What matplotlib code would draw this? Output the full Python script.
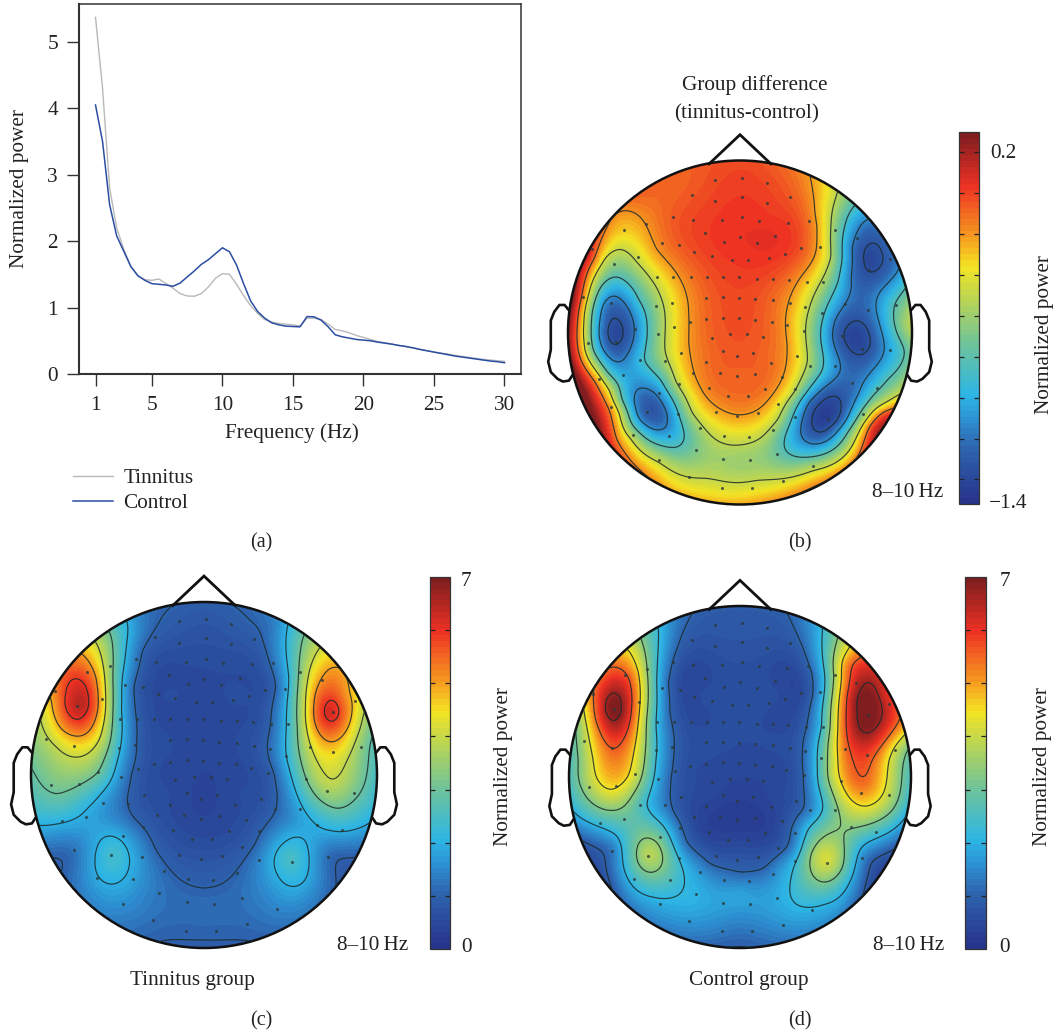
#!/usr/bin/env python3
"""
Resting EEG spectrum and 8-10 Hz scalp maps, tinnitus vs control
"""

import matplotlib
matplotlib.use('Agg')
import matplotlib.pyplot as plt
from matplotlib.colors import LinearSegmentedColormap
from matplotlib.lines import Line2D
from matplotlib.patches import Circle
import numpy as np

plt.rcParams['font.family'] = ['Liberation Serif', 'DejaVu Serif']
plt.rcParams['font.size'] = 15.3

W, H = 1054, 1033
FS = 15.3

# Spectrum, panel (a)
freq = np.arange(1, 30.5, 0.5)
tinnitus_power = [5.37, 4.3, 2.8, 2.2, 1.88, 1.62, 1.48, 1.42, 1.41, 1.43, 1.36, 1.29, 1.21, 1.175, 1.17,
                  1.21, 1.31, 1.44, 1.51, 1.50, 1.35, 1.18, 1.03, .91, .82, .78, .76, .75, .74, .72,
                  .84, .84, .82, .75, .67, .65, .62, .58, .55, .52, .49, .47, .45, .43, .41, .39,
                  .37, .35, .33, .315, .30, .28, .265, .25, .235, .22, .21, .20, .19]
control_power = [4.05, 3.5, 2.55, 2.08, 1.85, 1.62, 1.48, 1.41, 1.36, 1.35, 1.34, 1.32, 1.37, 1.46, 1.55,
                 1.65, 1.72, 1.81, 1.90, 1.84, 1.64, 1.36, 1.10, .94, .84, .77, .74, .72, .715, .71,
                 .865, .86, .81, .71, .59, .56, .54, .52, .51, .50, .48, .465, .45, .43, .415, .395,
                 .37, .35, .33, .31, .29, .27, .255, .24, .225, .21, .195, .185, .17]
freq_ticks = [1, 5, 10, 15, 20, 25, 30]
power_ticks = [0, 1, 2, 3, 4, 5]

# Sensor positions, picture coordinates
sensors_xy = [
    (526, 360), (605, 353), (680, 368), (455, 405), (526, 423), (605, 410), (680, 428), (750, 412),
    (398, 472), (458, 480), (545, 480), (605, 472), (657, 483), (743, 488), (806, 483), (253, 510),
    (320, 492), (495, 520), (600, 532), (706, 527), (885, 510), (366, 550), (418, 555), (552, 547),
    (650, 550), (783, 565), (840, 562), (950, 533), (157, 566), (462, 577), (515, 588), (575, 600),
    (623, 600), (687, 595), (735, 583), (295, 590), (222, 613), (1050, 597), (350, 650), (400, 650),
    (452, 650), (500, 650), (548, 650), (597, 650), (650, 656), (698, 656), (746, 660), (800, 665),
    (850, 665), (985, 630), (130, 710), (498, 713), (548, 711), (597, 714), (645, 718), (698, 721),
    (750, 730), (213, 730), (395, 728), (347, 737), (795, 740), (915, 733), (983, 750), (845, 760),
    (1067, 735), (403, 800), (450, 785), (498, 778), (548, 773), (597, 775), (645, 780), (695, 785),
    (740, 795), (792, 812), (285, 808), (353, 822), (515, 832), (571, 822), (620, 822), (668, 830),
    (228, 845), (145, 847), (905, 828), (965, 865), (1048, 870), (422, 878), (548, 872), (592, 888),
    (638, 878), (770, 888), (300, 900), (375, 902), (498, 905), (692, 907), (810, 917), (885, 917),
    (250, 943), (460, 937), (541, 937), (592, 948), (646, 940), (725, 950), (178, 955), (418, 972),
    (507, 982), (563, 1007), (623, 1007), (675, 985), (765, 985), (935, 967), (1010, 982), (358, 998),
    (713, 1030), (214, 1040), (415, 1060), (527, 1055), (590, 1067), (655, 1057), (765, 1070),
    (862, 1075), (968, 1060), (322, 1055), (280, 1125), (388, 1127), (480, 1103), (552, 1127),
    (627, 1130), (698, 1108), (467, 1168), (548, 1195), (630, 1200), (712, 1182), (358, 1200),
    (818, 1217), (447, 1250), (728, 1262), (545, 1282), (635, 1282),
]

# Panel (b): points along each contour, then spot readings (x, y, value)
b_levels = [-1.35, -1.15, -0.85, -0.5, -0.2]
b_line_02 = [(215, 465), (255, 447), (290, 460), (320, 500), (345, 570), (400, 625), (435, 690), (445, 760),
             (445, 850), (460, 930), (490, 1000), (540, 1045), (590, 1065), (650, 1050), (700, 1000),
             (735, 930), (745, 850), (745, 730), (780, 650), (830, 570), (835, 500), (825, 430), (813, 365),
             (185, 535), (150, 610), (130, 700), (115, 790), (118, 880), (180, 955), (215, 1040), (225, 1140)]
b_line_05 = [(238, 565), (190, 590), (160, 660), (140, 730), (133, 790), (140, 850), (170, 930), (215, 990),
             (245, 1060), (280, 1130), (360, 1200), (500, 1250), (650, 1257), (820, 1225), (950, 1130),
             (985, 1075), (1040, 1040), (1090, 1000), (290, 610), (350, 680), (373, 740), (373, 870),
             (400, 970), (450, 1060), (510, 1125), (590, 1157), (670, 1130), (720, 1080), (770, 1000),
             (805, 900), (810, 740), (850, 650), (880, 590), (890, 410)]
b_line_085 = [(225, 650), (180, 680), (155, 760), (150, 860), (190, 950), (235, 1020), (280, 1100), (350, 1150),
              (410, 1165), (437, 1130), (415, 1060), (370, 960), (300, 900), (320, 800), (290, 720), (255, 665),
              (730, 1165), (770, 1190), (850, 1180), (920, 1110), (965, 1050), (1000, 1000), (1040, 950),
              (1100, 870), (735, 1120), (800, 1000), (850, 930), (850, 780), (900, 660), (930, 450),
              (1085, 700), (1060, 730)]
b_line_115 = [(222, 703), (185, 730), (175, 820), (215, 905), (255, 890), (285, 800), (265, 740),
              (310, 985), (280, 1020), (290, 1075), (340, 1110), (380, 1105), (385, 1060), (350, 1000),
              (965, 480), (930, 560), (925, 650), (880, 780), (875, 830), (900, 900), (905, 930), (800, 1020),
              (780, 1120), (830, 1155), (920, 1080), (960, 1000), (1020, 900), (1015, 780), (1020, 690),
              (1080, 640)]
b_line_135 = [(228, 780), (205, 820), (225, 860), (248, 825), (990, 550), (978, 630), (1005, 635), (1025, 600),
              (1015, 555), (945, 785), (905, 830), (955, 885), (993, 860), (985, 810), (860, 1005),
              (815, 1060), (850, 1120), (900, 1080), (895, 1020)]
b_spots = [(610, 500, 0.04), (600, 700, -0.02), (600, 950, -0.1), (600, 340, 0.0), (400, 350, -0.1),
           (280, 420, -0.1), (780, 370, -0.12), (850, 450, -0.35), (100, 720, 0.2), (150, 590, 0.1),
           (150, 1050, 0.25), (200, 1130, 0.1), (270, 1210, -0.15), (400, 1290, -0.3), (600, 1310, -0.35),
           (800, 1270, -0.3), (1040, 1060, 0.1), (1000, 1100, 0.05), (960, 1180, -0.2), (1100, 800, -0.55),
           (1100, 650, -0.9), (1000, 490, -1.2), (960, 440, -0.9), (1040, 560, -1.25), (600, 1205, -0.65),
           (228, 825, -1.45), (330, 1050, -1.38), (1000, 590, -1.45), (950, 835, -1.45), (858, 1060, -1.45),
           (500, 700, -0.08), (690, 700, -0.08), (235, 510, -0.3), (500, 450, 0.0), (700, 450, 0.0),
           (600, 600, 0.02), (500, 880, -0.12), (690, 880, -0.12), (400, 480, -0.05)]

# Panel (c)
c_levels = [1, 2, 3, 4, 5, 6]
c_line_1 = [(530, 135), (480, 190), (420, 270), (395, 380), (405, 450), (405, 540), (390, 640), (380, 710),
            (400, 780), (460, 870), (520, 940), (612, 990), (700, 945), (770, 860), (820, 770), (835, 700),
            (830, 640), (815, 500), (835, 380), (800, 270), (745, 190), (695, 135), (160, 890), (200, 900),
            (170, 940), (995, 895), (1060, 895), (1010, 980), (490, 1140), (612, 1138), (730, 1140)]
c_line_2 = [(390, 190), (375, 300), (360, 450), (350, 600), (300, 700), (260, 740), (185, 790), (120, 800),
            (858, 205), (870, 350), (860, 500), (860, 600), (890, 700), (950, 780), (1020, 820), (1110, 790),
            (335, 822), (295, 860), (285, 940), (320, 970), (385, 925), (385, 880), (365, 840),
            (875, 825), (825, 880), (835, 940), (890, 980), (920, 960), (920, 860), (905, 830)]
c_line_3 = [(335, 220), (335, 350), (335, 500), (300, 640), (230, 680), (170, 710), (105, 640),
            (905, 240), (895, 350), (895, 500), (915, 650), (960, 720), (1010, 750), (1060, 720), (1110, 550)]
c_line_4 = [(290, 250), (315, 400), (300, 540), (225, 590), (170, 555), (125, 470),
            (960, 265), (925, 340), (920, 440), (945, 590), (990, 675), (1040, 600), (1085, 470)]
c_line_5 = [(250, 285), (290, 350), (295, 430), (280, 490), (225, 525), (170, 490), (160, 420),
            (985, 322), (945, 400), (945, 490), (990, 545), (1050, 490), (1040, 400), (1025, 325)]
c_line_6 = [(235, 355), (200, 400), (190, 430), (232, 487), (268, 440), (262, 380),
            (992, 415), (970, 455), (995, 490), (1020, 460), (1005, 420)]
c_spots = [(612, 700, 0.4), (612, 400, 0.5), (612, 180, 0.75), (612, 1160, 0.95), (612, 1050, 1.2),
           (300, 1080, 1.35), (900, 1070, 1.35), (420, 1000, 1.5), (800, 1000, 1.5), (230, 870, 1.3),
           (1000, 870, 1.2), (420, 160, 1.3), (830, 190, 1.3), (335, 885, 2.6), (875, 900, 2.7),
           (330, 780, 1.5), (880, 790, 1.5), (232, 430, 6.7), (992, 455, 6.5), (110, 550, 3.5),
           (175, 340, 5.5), (330, 190, 2.6), (1100, 540, 3.2), (170, 920, 0.9), (1030, 930, 0.85),
           (500, 400, 0.65), (720, 400, 0.65), (500, 700, 0.6), (720, 700, 0.6), (612, 900, 0.75),
           (490, 550, 0.65), (735, 550, 0.65), (540, 250, 0.7), (680, 250, 0.7)]

# Panel (d)
d_levels = [1, 2.15, 3.3, 4.45, 5.6, 6.75]
d_line_1 = [(455, 160), (420, 230), (395, 300), (378, 370), (385, 450), (400, 500), (400, 580), (390, 650),
            (395, 760), (430, 850), (500, 920), (600, 948), (680, 930), (760, 860), (800, 750), (795, 650),
            (790, 580), (800, 500), (825, 400), (820, 340), (790, 260), (745, 160), (125, 840), (210, 870),
            (213, 970), (1050, 875), (985, 900), (975, 975)]
d_line_2 = [(358, 215), (350, 350), (345, 500), (345, 600), (310, 730), (370, 790), (410, 880), (430, 950),
            (415, 985), (340, 1005), (280, 980), (250, 920), (235, 830), (200, 810), (110, 765),
            (848, 215), (855, 350), (850, 500), (835, 620), (855, 740), (800, 800), (760, 950), (750, 990),
            (850, 1025), (930, 960), (960, 860), (1020, 830), (1095, 770)]
d_line_3 = [(305, 245), (320, 330), (318, 480), (315, 600), (280, 700), (200, 750), (130, 690), (120, 600),
            (110, 500), (322, 832), (290, 880), (325, 937), (370, 890), (355, 845), (860, 822), (810, 880),
            (815, 935), (855, 968), (910, 920), (910, 840), (890, 240), (885, 350), (870, 500), (860, 650),
            (900, 760), (980, 795), (1060, 750), (1100, 560)]
d_line_4 = [(270, 270), (295, 330), (298, 450), (280, 580), (270, 650), (215, 695), (165, 650), (150, 550),
            (135, 450), (925, 275), (900, 400), (890, 550), (895, 640), (925, 710), (975, 740), (1030, 700),
            (1045, 600), (1060, 560), (1090, 530)]
d_line_5 = [(225, 317), (270, 350), (272, 440), (255, 530), (222, 570), (180, 510), (165, 430), (190, 340),
            (925, 310), (918, 500), (945, 620), (965, 670), (985, 640), (1000, 590), (1040, 540), (1085, 475)]
d_line_6 = [(222, 397), (195, 420), (190, 450), (222, 493), (250, 450), (245, 410),
            (975, 360), (945, 410), (950, 500), (985, 522), (1025, 470), (1010, 390)]
d_spots = [(600, 680, 0.4), (600, 400, 0.6), (600, 180, 0.85), (222, 445, 7.2), (985, 440, 7.3),
           (322, 885, 4.2), (862, 900, 4.6), (100, 600, 3.0), (90, 680, 2.7), (230, 290, 5.0),
           (1000, 310, 6.0), (1050, 400, 5.8), (1105, 650, 2.8), (600, 1000, 2.0), (600, 1080, 1.45),
           (600, 1140, 1.1), (300, 1080, 1.3), (900, 1090, 1.4), (450, 1020, 2.1), (760, 1040, 2.1),
           (480, 930, 1.8), (720, 930, 1.8), (170, 900, 0.8), (1020, 900, 0.85), (400, 170, 1.4),
           (480, 400, 0.65), (720, 400, 0.65), (490, 700, 0.6), (710, 700, 0.6), (600, 880, 0.75),
           (490, 550, 0.65), (710, 550, 0.65), (520, 250, 0.75), (680, 250, 0.75)]

# Colorbar stops, bottom to top
cmap_stops = [(0.0, '#27348b'), (0.14, '#2e62ad'), (0.22, '#2d8fd0'), (0.29, '#2cb6e6'), (0.43, '#6fc39a'),
              (0.57, '#c6d84a'), (0.64, '#f4e423'), (0.715, '#f6a01f'), (0.86, '#ee3124'), (1.0, '#7f1d1f')]
eeg_cmap = LinearSegmentedColormap.from_list('eeg', cmap_stops, N=64)


def px_axes(left, top, right, bottom):
    return fig.add_axes([left / W, 1 - bottom / H, (right - left) / W, (bottom - top) / H])


def px_text(x, y, s, **kw):
    kw.setdefault('ha', 'center')
    kw.setdefault('va', 'center')
    kw.setdefault('fontsize', FS)
    fig.text(x / W, 1 - (y + 2) / H, s, color='#222222', **kw)


def tps_surface(pts, vals, gx, gy):
    # thin plate spline through the traced readings, slightly smoothed
    pts = np.asarray(pts, float)
    vals = np.asarray(vals, float)
    n = len(pts)
    d = np.linalg.norm(pts[:, None] - pts[None], axis=2)
    with np.errstate(divide='ignore', invalid='ignore'):
        K = np.nan_to_num(d ** 2 * np.log(d))
    K += 0.01 * np.eye(n)
    P = np.c_[np.ones(n), pts]
    A = np.block([[K, P], [P.T, np.zeros((3, 3))]])
    sol = np.linalg.lstsq(A, np.r_[vals, np.zeros(3)], rcond=None)[0]
    q = np.c_[gx.ravel(), gy.ravel()]
    dq = np.linalg.norm(q[:, None] - pts[None], axis=2)
    with np.errstate(divide='ignore', invalid='ignore'):
        Kq = np.nan_to_num(dq ** 2 * np.log(dq))
    z = Kq @ sol[:n] + sol[n] + q @ sol[n + 1:]
    return z.reshape(gx.shape)


def draw_head(box, zoom_c, lines, levels, spots, vmin, vmax):
    # box = head centre x, y, radius in figure pixels; zoom_c = centre x, y, radius of the traced picture
    cx, cy, r = box
    zx, zy, zr = zoom_c
    ax = px_axes(cx - 1.25 * r, cy - 1.25 * r, cx + 1.25 * r, cy + 1.25 * r)
    ax.set_xlim(-1.25, 1.25)
    ax.set_ylim(-1.25, 1.25)
    ax.axis('off')

    pts, vals = [], []
    for line, lev in zip(lines, levels):
        for x, y in line:
            pts.append(((x - zx) / zr, -(y - zy) / zr))
            vals.append(lev)
    for x, y, v in spots:
        pts.append(((x - zx) / zr, -(y - zy) / zr))
        vals.append(v)

    g = np.linspace(-1, 1, 135)
    gx, gy = np.meshgrid(g, g)
    z = tps_surface(pts, vals, gx, gy)

    clip = Circle((0, 0), 1.0, transform=ax.transData)
    im = ax.imshow(z[::2, ::2], origin='lower', extent=(-1, 1, -1, 1), cmap=eeg_cmap, vmin=vmin, vmax=vmax,
                   interpolation='bilinear')
    im.set_clip_path(clip)
    cs = ax.contour(gx, gy, z, levels=levels, colors='#1c2a2a', linewidths=0.85, alpha=0.85,
                    linestyles='solid')
    cs.set_clip_path(clip)

    sx = [(p[0] - 600) / 515 for p in sensors_xy]
    sy = [-(p[1] - 817) / 515 for p in sensors_xy]
    ax.plot(sx, sy, ls='none', marker='o', ms=2.2, mfc='#2a3a3a', mec='none', alpha=0.8)

    ax.add_patch(Circle((0, 0), 1.0, fill=False, ec='#111111', lw=1.8))
    ax.plot([-0.18, 0, 0.18], [0.98, 1.15, 0.98], color='#111111', lw=2.0, solid_joinstyle='miter')
    ear_x = [0.995, 1.02, 1.05, 1.08, 1.10, 1.10, 1.10, 1.115, 1.10, 1.06, 1.03, 0.995, 0.975]
    ear_y = [0.13, 0.16, 0.16, 0.12, 0.07, -0.03, -0.10, -0.17, -0.23, -0.27, -0.285, -0.28, -0.25]
    ax.plot(ear_x, ear_y, color='#111111', lw=1.9)
    ax.plot([-v for v in ear_x], ear_y, color='#111111', lw=1.9)
    return im


def draw_cbar(im, left, top, right, bottom, ticks):
    cax = px_axes(left, top, right, bottom)
    cb = fig.colorbar(im, cax=cax)
    cb.set_ticks(ticks)
    cb.minorticks_off()
    cax.tick_params(left=True, right=True, labelleft=False, labelright=False, direction='in',
                    length=3.6, width=0.9, color='#222222')
    cb.outline.set_linewidth(0.9)
    cb.outline.set_edgecolor('#333333')


fig = plt.figure(figsize=(W / 100, H / 100), dpi=100, facecolor='white')

# (a) spectrum
ax = px_axes(79, 4, 521, 374)
ax.plot(freq, tinnitus_power, color='#b9b9b9', lw=1.0)
ax.plot(freq, control_power, color='#2b4ea2', lw=1.1)
ax.set_xlim(1 - 16.5 / 14.1, 30 + 16.5 / 14.1)
ax.set_ylim(0, 5.57)
ax.set_xticks(freq_ticks)
ax.set_yticks(power_ticks)
ax.tick_params(length=8.6, width=1.0, color='#333333', labelsize=FS, labelcolor='#222222')
ax.tick_params(axis='x', pad=7)
ax.tick_params(axis='y', pad=6.5)
for side in ax.spines.values():
    side.set_color('#333333')
    side.set_linewidth(1.1)
ax.spines['left'].set_linewidth(1.5)
ax.spines['bottom'].set_linewidth(1.5)
px_text(292, 431, 'Frequency (Hz)')
px_text(20, 187, 'Normalized power', rotation=90)
handles = [Line2D([], [], color='#b9b9b9', lw=1.0), Line2D([], [], color='#2b4ea2', lw=1.1)]
fig.legend(handles, ['Tinnitus', 'Control'], loc='upper left', bbox_to_anchor=(54 / W, 1 - 449 / H), frameon=False,
           fontsize=FS, handlelength=1.88, handletextpad=0.47, labelspacing=0.25, labelcolor='#222222')

# (b) group difference
im_b = draw_head((740, 332.5, 172), (600, 817, 515),
                 [b_line_135, b_line_115, b_line_085, b_line_05, b_line_02], b_levels, b_spots, -1.52, 0.30)
draw_cbar(im_b, 959, 132, 979, 504, [-1.4, -1.2, -1.0, -0.8, -0.6, -0.4, -0.2, 0.0, 0.2])
px_text(755, 83, 'Group difference')
px_text(747, 112, '(tinnitus-control)')
px_text(1003, 152, '0.2')
px_text(1008, 502, '\u22121.4')
px_text(908, 491, '8\u201310\u2009Hz')
px_text(1044, 333, 'Normalized power', rotation=90)

# (c) tinnitus group
im_c = draw_head((204, 775, 173), (612, 645, 520),
                 [c_line_1, c_line_2, c_line_3, c_line_4, c_line_5, c_line_6], c_levels, c_spots, 0, 7)
draw_cbar(im_c, 430, 577, 450, 949, [1, 2, 3, 4, 5, 6])
px_text(466, 580, '7')
px_text(466, 946, '0')
px_text(373, 944, '8\u201310\u2009Hz')
px_text(503.5, 765, 'Normalized power', rotation=90)
px_text(192, 978, 'Tinnitus group')

# (d) control group
im_d = draw_head((740, 777, 171), (600, 650, 513),
                 [d_line_1, d_line_2, d_line_3, d_line_4, d_line_5, d_line_6], d_levels, d_spots, 0, 7)
draw_cbar(im_d, 965, 577, 986, 949, [1, 2, 3, 4, 5, 6])
px_text(1005, 580, '7')
px_text(1005, 946, '0')
px_text(909, 944, '8\u201310\u2009Hz')
px_text(1042.5, 765, 'Normalized power', rotation=90)
px_text(749, 978, 'Control group')

for x, y, s in [(261, 541, '(a)'), (800, 541, '(b)'), (261, 1019, '(c)'), (800, 1019, '(d)')]:
    px_text(x, y, s, fontsize=14.5)

fig.savefig('out.png', dpi=100, facecolor='white')
